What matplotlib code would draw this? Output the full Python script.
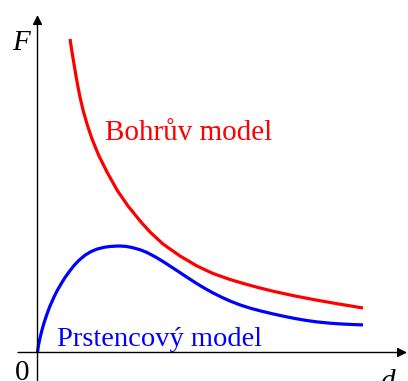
import matplotlib
matplotlib.use('Agg')
import matplotlib.pyplot as plt

plt.rcParams['font.family'] = ['Liberation Serif', 'DejaVu Serif']

# force vs. distance, arbitrary units
bohr_d = [32.5, 34.5, 36.5, 38.5, 40.5, 42.5, 45.5, 49.5, 54.5, 61.5,
          69.5, 79.5, 90.5, 103.5, 112.5, 125.5, 142.5, 159.5, 175.5, 192.5,
          209.5, 222.5, 235.5, 257.5, 279.5, 302.5, 325.5]
bohr_F = [313.5, 300.5, 288.5, 276.5, 265.5, 255.5, 242.5, 228.5, 213.5, 196.5,
          180.5, 162.5, 146.5, 130.5, 120.5, 108.5, 96.5, 86.5, 79.0, 73.0,
          68.0, 64.5, 61.3, 56.5, 52.3, 48.3, 44.5]

ring_d = [0.0, 1.0, 2.5, 4.5, 6.5, 9.5, 12.5, 16.5, 19.5, 23.5,
          27.5, 31.5, 36.5, 41.5, 47.5, 53.5, 59.5, 66.5, 72.5, 78.5,
          82.5, 88.5, 94.5, 102.5, 109.5, 117.5, 125.5, 133.5, 142.5, 150.5,
          159.5, 167.5, 175.5, 184.5, 192.5, 202.5, 212.5, 222.5, 235.5, 247.5,
          257.5, 268.5, 279.5, 292.5, 302.5, 314.5, 325.5]
ring_F = [0.0, 7.5, 14.5, 22.5, 29.5, 38.5, 46.5, 55.5, 61.5, 68.5,
          75.0, 80.5, 87.0, 92.2, 97.3, 100.9, 103.4, 105.2, 106.0, 106.4,
          106.5, 106.1, 105.0, 102.8, 100.0, 95.8, 91.0, 85.8, 79.9, 74.6,
          68.8, 64.0, 59.6, 55.1, 51.5, 47.6, 44.4, 41.7, 38.6, 36.0,
          34.0, 32.1, 30.6, 29.3, 28.6, 28.0, 27.6]

bohr_label = 'Bohrův model'
ring_label = 'Prstencový model'

fig = plt.figure(figsize=(4.08, 3.81), dpi=100, facecolor='white')
ax = fig.add_axes([0, 0, 1, 1])
ax.set_xlim(-37.5, 370.5)
ax.set_ylim(-28.5, 352.5)
ax.axis('off')

# axes with arrow heads
arrow = dict(arrowstyle='-|>', color='black', lw=1.0, mutation_scale=14,
             shrinkA=0, shrinkB=0)
ax.annotate('', xy=(369.5, 0), xytext=(-19.5, 0), arrowprops=arrow)
ax.annotate('', xy=(0, 337.5), xytext=(0, -30), arrowprops=arrow)

ax.plot(bohr_d, bohr_F, color='#ff0000', lw=2.3, solid_capstyle='butt',
        solid_joinstyle='round')
ax.plot(ring_d, ring_F, color='#0000ff', lw=2.3, solid_capstyle='butt',
        solid_joinstyle='round')

ax.text(67.5, 212.5, bohr_label, color='#ff0000', fontsize=21,
        ha='left', va='baseline')
ax.text(19.5, 6.5, ring_label, color='#0000ff', fontsize=20.5,
        ha='left', va='baseline')

ax.text(-25.5, 302.5, 'F', fontsize=21, style='italic', ha='left', va='baseline')
ax.text(342.5, -36.5, 'd', fontsize=21, style='italic', ha='left', va='baseline')
ax.text(-15.5, -27.5, '0', fontsize=21, ha='center', va='baseline')

fig.savefig('out.png', dpi=100)
